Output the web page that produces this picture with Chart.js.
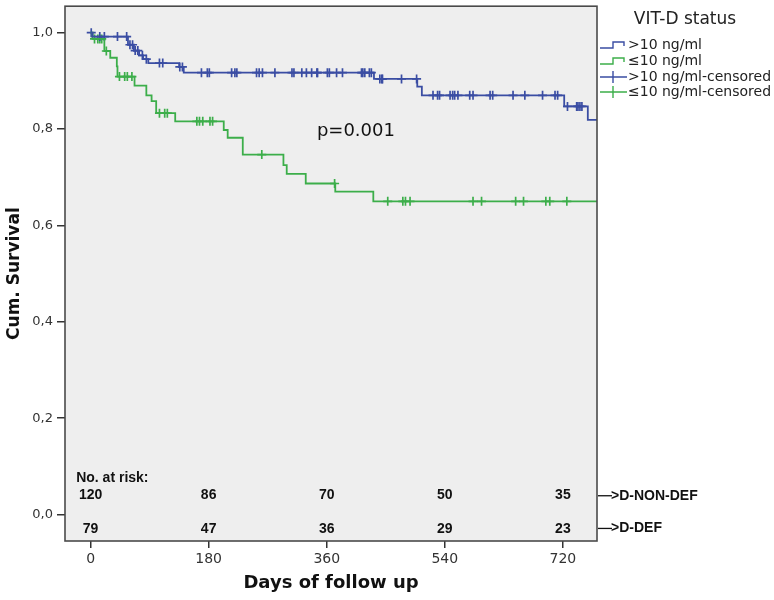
<!DOCTYPE html>
<html>
<head>
<meta charset="utf-8">
<script src="https://cdn.jsdelivr.net/npm/chart.js@4.4.1/dist/chart.umd.min.js"></script>
<style>
  html, body { margin: 0; padding: 0; background: #ffffff; }
  canvas { display: block; }
</style>
</head>
<body>
<canvas id="kmChart" width="774" height="600"></canvas>
<script>
// Kaplan-Meier steps (days, cumulative survival)
const blueTimes = [0, 3, 57, 66, 74, 80, 88, 135, 142, 432, 498, 505, 722, 758, 772];
const blueSurv  = [1.0, 0.992, 0.975, 0.963, 0.953, 0.945, 0.937, 0.929, 0.917, 0.904, 0.888, 0.870, 0.847, 0.819, 0.819];
const greenTimes = [0, 3, 21, 30, 40, 41, 67, 85, 93, 100, 129, 203, 209, 232, 294, 299, 328, 373, 431, 772];
const greenSurv  = [1.0, 0.987, 0.962, 0.948, 0.930, 0.909, 0.890, 0.870, 0.858, 0.833, 0.816, 0.798, 0.782, 0.747, 0.725, 0.707, 0.687, 0.670, 0.650, 0.650];

// censoring times
const blueCensored = [1, 14, 21, 41, 55, 60, 64, 68, 72, 79, 85, 105, 110, 136, 140, 169, 178, 181, 215, 220, 223,
  253, 257, 262, 281, 307, 310, 322, 329, 337, 345, 346, 361, 364, 375, 384, 413, 415, 418, 425, 428,
  441, 444, 445, 474, 497, 522, 529, 532, 548, 552, 555, 560, 578, 583, 609, 613, 644, 662, 689, 708, 712,
  727, 741, 743, 746, 749];
const greenCensored = [6, 11, 14, 17, 24, 44, 52, 56, 63, 105, 113, 117, 162, 166, 171, 182, 186, 261, 372,
  453, 476, 480, 487, 583, 596, 648, 660, 694, 700, 726];

// number at risk table
const riskDays = [0, 180, 360, 540, 720];
const riskNonDef = [120, 86, 70, 50, 35];
const riskDef = [79, 47, 36, 29, 23];
const riskGroups = ['>D-NON-DEF', '>D-DEF'];

const xTicks = [0, 180, 360, 540, 720];
const yTicks = [0, 0.2, 0.4, 0.6, 0.8, 1.0];

const legendTitle = 'VIT-D status';
const legendLabels = ['>10 ng/ml', '\u226410 ng/ml', '>10 ng/ml-censored', '\u226410 ng/ml-censored'];
const pValueText = 'p=0.001';

const BLUE = '#3a4da3';
const GREEN = '#3cae4a';

function survAt(times, surv, t) {
    let s = surv[0];
    for (let i = 0; i < times.length; i++) {
        if (times[i] <= t) s = surv[i];
    }
    return s;
}

function toPoints(xs, ys) {
    return xs.map((x, i) => ({ x: x, y: ys[i] }));
}

const blueMarks = blueCensored.map(t => ({ x: t, y: survAt(blueTimes, blueSurv, t) }));
const greenMarks = greenCensored.map(t => ({ x: t, y: survAt(greenTimes, greenSurv, t) }));

const plotDecor = {
    id: 'plotDecor',
    beforeDraw(chart) {
        const { ctx, chartArea } = chart;
        ctx.save();
        ctx.fillStyle = '#ffffff';
        ctx.fillRect(0, 0, chart.width, chart.height);
        ctx.fillStyle = '#eeeeee';
        ctx.fillRect(chartArea.left, chartArea.top, chartArea.right - chartArea.left, chartArea.bottom - chartArea.top);
        ctx.restore();
    },
    afterDraw(chart) {
        const { ctx, chartArea } = chart;
        const xs = chart.scales.x;
        const ys = chart.scales.y;
        ctx.save();

        // frame
        ctx.strokeStyle = '#4a4a4a';
        ctx.lineWidth = 1.6;
        ctx.strokeRect(chartArea.left, chartArea.top, chartArea.right - chartArea.left, chartArea.bottom - chartArea.top);

        // p value
        ctx.fillStyle = '#111111';
        ctx.font = '18px "DejaVu Sans"';
        ctx.textAlign = 'left';
        ctx.textBaseline = 'middle';
        ctx.fillText(pValueText, xs.getPixelForValue(345), ys.getPixelForValue(0.796));

        // number at risk
        ctx.font = 'bold 14px "Liberation Sans"';
        ctx.fillText('No. at risk:', xs.getPixelForValue(-22), ys.getPixelForValue(0.076));
        ctx.textAlign = 'center';
        const rows = [riskNonDef, riskDef];
        const rowY = [ys.getPixelForValue(0.041), ys.getPixelForValue(-0.031)];
        rows.forEach((row, r) => {
            row.forEach((n, i) => {
                ctx.fillText(String(n), xs.getPixelForValue(riskDays[i]), rowY[r]);
            });
        });
        ctx.textAlign = 'left';
        riskGroups.forEach((g, r) => {
            const y = rowY[r] + (r === 0 ? 1 : -1);
            ctx.strokeStyle = '#111111';
            ctx.lineWidth = 1.3;
            ctx.beginPath();
            ctx.moveTo(chartArea.right + 1, y);
            ctx.lineTo(chartArea.right + 15, y);
            ctx.stroke();
            ctx.fillText(g, chartArea.right + 14, y);
        });

        // legend
        const lx = chartArea.right;
        ctx.fillStyle = '#222222';
        ctx.font = '17px "DejaVu Sans"';
        ctx.textAlign = 'center';
        ctx.fillText(legendTitle, lx + 88, 20);
        ctx.font = '14px "DejaVu Sans"';
        ctx.textAlign = 'left';
        const colors = [BLUE, GREEN, BLUE, GREEN];
        const rowsY = [45, 61, 77, 92];
        legendLabels.forEach((lab, i) => {
            const y = rowsY[i];
            ctx.strokeStyle = colors[i];
            ctx.lineWidth = 1.4;
            ctx.beginPath();
            if (i < 2) {
                ctx.moveTo(lx + 3, y + 3);
                ctx.lineTo(lx + 16, y + 3);
                ctx.lineTo(lx + 16, y - 3);
                ctx.lineTo(lx + 27, y - 3);
                ctx.lineTo(lx + 27, y + 1);
            } else {
                ctx.moveTo(lx + 3, y);
                ctx.lineTo(lx + 30, y);
                ctx.moveTo(lx + 16, y - 6);
                ctx.lineTo(lx + 16, y + 6);
            }
            ctx.stroke();
            ctx.fillStyle = '#222222';
            ctx.fillText(lab, lx + 31, y);
        });
        ctx.restore();
    }
};

const ctx = document.getElementById('kmChart').getContext('2d');
new Chart(ctx, {
    type: 'line',
    data: {
        datasets: [
            {
                label: legendLabels[0],
                data: toPoints(blueTimes, blueSurv),
                borderColor: BLUE,
                borderWidth: 1.8,
                stepped: 'before',
                pointRadius: 0,
                fill: false
            },
            {
                label: legendLabels[1],
                data: toPoints(greenTimes, greenSurv),
                borderColor: GREEN,
                borderWidth: 1.8,
                stepped: 'before',
                pointRadius: 0,
                fill: false
            },
            {
                label: legendLabels[2],
                data: blueMarks,
                showLine: false,
                pointStyle: 'cross',
                pointRadius: 4.5,
                borderColor: BLUE,
                pointBorderWidth: 1.7
            },
            {
                label: legendLabels[3],
                data: greenMarks,
                showLine: false,
                pointStyle: 'cross',
                pointRadius: 4.5,
                borderColor: GREEN,
                pointBorderWidth: 1.7
            }
        ]
    },
    options: {
        responsive: false,
        animation: false,
        layout: { padding: { top: 3, right: 177, bottom: 0, left: 0 } },
        plugins: {
            legend: { display: false },
            tooltip: { enabled: false }
        },
        scales: {
            x: {
                type: 'linear',
                min: -39,
                max: 772,
                afterBuildTicks: s => { s.ticks = xTicks.map(v => ({ value: v })); },
                afterFit: s => { s.height = 59; s.paddingLeft = 0; s.paddingRight = 0; },
                grid: { display: true, drawOnChartArea: false, drawTicks: true, tickLength: 7, color: '#333333', lineWidth: 1.5 },
                border: { display: false },
                ticks: { font: { family: 'DejaVu Sans', size: 14 }, color: '#333333', padding: 3, maxRotation: 0 },
                title: {
                    display: true,
                    text: 'Days of follow up',
                    font: { family: 'DejaVu Sans', size: 18, weight: 'bold' },
                    color: '#111111',
                    padding: { top: 0, bottom: 6 }
                }
            },
            y: {
                min: -0.055,
                max: 1.055,
                afterBuildTicks: s => { s.ticks = yTicks.map(v => ({ value: v })); },
                afterFit: s => { s.width = 65; s.paddingTop = 0; s.paddingBottom = 0; },
                grid: { display: true, drawOnChartArea: false, drawTicks: true, tickLength: 8, color: '#333333', lineWidth: 1.5 },
                border: { display: false },
                ticks: {
                    font: { family: 'DejaVu Sans', size: 13 },
                    color: '#333333',
                    padding: 4,
                    callback: v => v.toFixed(1).replace('.', ',')
                },
                title: {
                    display: true,
                    text: 'Cum. Survival',
                    font: { family: 'DejaVu Sans', size: 17, weight: 'bold' },
                    color: '#111111',
                    padding: { top: 4, bottom: 0 }
                }
            }
        }
    },
    plugins: [plotDecor]
});
</script>
</body>
</html>
